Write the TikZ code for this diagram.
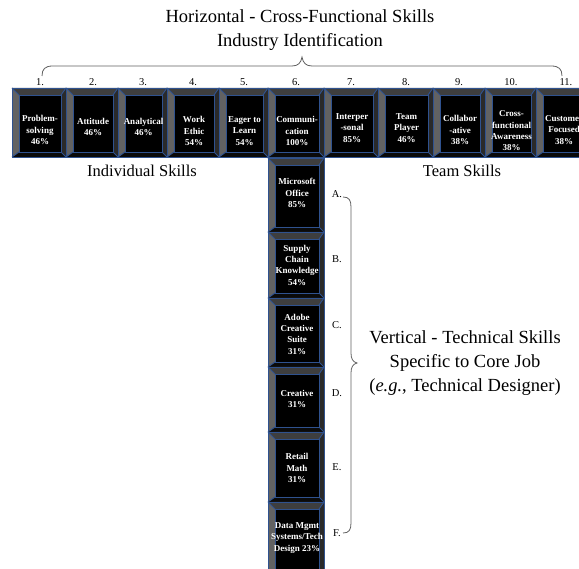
\documentclass[tikz,border=0pt]{standalone}
\usepackage{fontspec}
\setmainfont{Liberation Serif}
\definecolor{bblue}{HTML}{2F528F}
\definecolor{bgtop}{HTML}{3E3E3E}
\definecolor{bgleft}{HTML}{626262}
\definecolor{bgright}{HTML}{2A2A2A}
\definecolor{bgbot}{HTML}{0A0A0A}
\definecolor{brcol}{HTML}{606060}
\newcommand\bevbox[7]{%
  \fill[bgtop] (#2,#3) -- (#4,#3) -- ({#4-5},{#3+7}) -- ({#2+7},{#3+7}) -- cycle;
  \fill[bgleft] (#2,#3) -- ({#2+7},{#3+7}) -- ({#2+7},{#5-5}) -- (#2,#5) -- cycle;
  \fill[bgright] (#4,#3) -- (#4,#5) -- ({#4-5},{#5-5}) -- ({#4-5},{#3+7}) -- cycle;
  \fill[bgbot] (#2,#5) -- (#4,#5) -- ({#4-5},{#5-5}) -- ({#2+7},{#5-5}) -- cycle;
  \draw[bevline, fill=black] ({#2+7},{#3+7}) rectangle ({#4-5},{#5-5});
  \draw[bevline] (#2,#3) -- ({#2+7},{#3+7}) (#4,#3) -- ({#4-5},{#3+7})
                 (#2,#5) -- ({#2+7},{#5-5}) (#4,#5) -- ({#4-5},{#5-5});
  \draw[bevline] (#2,#3) rectangle (#4,#5);
  \node[boxtext] (#1) at ({(#2+#4)/2+1},#6) {#7};
}
\tikzset{
  bevline/.style={draw=bblue, line width=0.9pt},
  boxtext/.style={text=white, font=\bfseries\fontsize{9}{11.3}\selectfont, align=center, inner sep=0pt},
  numlab/.style={font=\fontsize{10.5}{12}\selectfont, inner sep=0pt},
  bigtext/.style={font=\fontsize{18.5}{24}\selectfont, align=center, inner sep=0pt},
  midtext/.style={font=\fontsize{16.5}{20}\selectfont, inner sep=0pt},
  bracel/.style={draw=brcol, line width=0.8pt}
}
\begin{document}
\begin{tikzpicture}[x=1pt,y=-1pt]
\useasboundingbox (0,0) rectangle (579,569);
\begin{scope}
\clip (0,0) rectangle (579,569);
% horizontal row
\bevbox{h1}{12}{88}{66}{157}{130}{Problem-\\solving\\46\%}
\bevbox{h2}{66}{88}{118}{157}{127}{Attitude\\46\%}
\bevbox{h3}{118}{88}{167}{157}{127}{Analytical\\46\%}
\bevbox{h4}{167}{88}{219}{157}{131}{Work\\Ethic\\54\%}
\bevbox{h5}{219}{88}{268}{157}{131}{Eager to\\Learn\\54\%}
\bevbox{h6}{268}{88}{324}{157}{131}{Communi-\\cation\\100\%}
\bevbox{h7}{324}{88}{378}{157}{128}{Interper\\-sonal\\85\%}
\bevbox{h8}{378}{88}{433}{157}{128}{Team\\Player\\46\%}
\bevbox{h9}{433}{88}{485}{157}{130}{Collabor\\-ative\\38\%}
\bevbox{h10}{485}{88}{536}{157}{131}{Cross-\\functional\\Awareness\\38\%}
\bevbox{h11}{536}{88}{590}{157}{130}{Customer\\Focused\\38\%}
% vertical column
\bevbox{v1}{268}{158}{324}{232}{193}{Microsoft\\Office\\85\%}
\bevbox{v2}{268}{232}{324}{298}{265}{Supply\\Chain\\Knowledge\\54\%}
\bevbox{v3}{268}{298}{324}{367}{334}{Adobe\\Creative\\Suite\\31\%}
\bevbox{v4}{268}{367}{324}{432}{399}{Creative\\31\%}
\bevbox{v5}{268}{432}{324}{502}{468}{Retail\\Math\\31\%}
\bevbox{v6}{268}{502}{324}{576}{538}{Data Mgmt\\Systems/Tech\\Design 23\%}
\end{scope}
% numbers
\foreach \n/\x in {1/40,2/93,3/143,4/193,5/244,6/296,7/351,8/406,9/459,10/511,11/566}
  \node[numlab] (n\n) at (\x,82) {\n.};
% letters
\foreach \l/\y in {A/194,B/259,C/325,D/393,E/467,F/533}
  \node[numlab] (l\l) at (337,\y) {\l.};
% titles
\node[bigtext] (title) at (300,30) {Horizontal - Cross-Functional Skills\\Industry Identification};
\node[bigtext] (vert) at (465,363) {Vertical - Technical Skills\\Specific to Core Job\\(\textit{e.g.},~Technical Designer)};
\node[midtext] (indiv) at (142,171) {Individual Skills};
\node[midtext] (team) at (462,171) {Team Skills};
% horizontal brace
\draw[bracel] (42,76) .. controls (42,69) and (45,66) .. (53,66) -- (292,66)
  .. controls (298,66) and (301,63) .. (302,57)
  .. controls (303,63) and (306,66) .. (312,66) -- (551,66)
  .. controls (559,66) and (562,69) .. (562,76);
% vertical brace
\draw[bracel] (343,197) .. controls (349,197) and (351,200) .. (351,207) -- (351,353)
  .. controls (351,359) and (353,362) .. (357,363)
  .. controls (353,364) and (351,367) .. (351,373) -- (351,523)
  .. controls (351,530) and (349,533) .. (343,533);
\end{tikzpicture}
\end{document}
